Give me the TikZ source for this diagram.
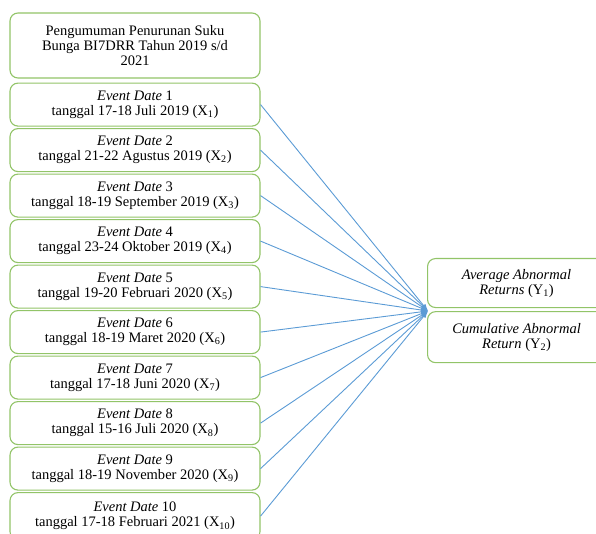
\documentclass[tikz,border=0pt]{standalone}
\usepackage{fontspec}
\setmainfont{Liberation Serif}
\usetikzlibrary{arrows.meta, positioning}
\definecolor{boxgreen}{RGB}{146,196,104}
\definecolor{lineblue}{RGB}{91,155,213}

\begin{document}
\begin{tikzpicture}[
        x=1pt, y=-1pt,
        node distance=1.4pt,
        every node/.style={font=\fontsize{14.5}{15}\selectfont},
        box/.style={rectangle, draw=boxgreen, line width=1.1pt, fill=white, rounded corners=8pt, minimum width=250pt, minimum height=43pt, align=center, inner sep=1pt},
        outbox/.style={box, minimum width=178pt},
        link/.style={-{Latex[length=7pt,width=5pt]}, lineblue, line width=0.9pt}
    ]
        \useasboundingbox (0,0) rectangle (596,534);
        \clip (0,0) rectangle (596,534);

        % left column
        \node[box, minimum height=65pt] (title) at (135,45.5) {Pengumuman Penurunan Suku\\Bunga BI7DRR Tahun 2019 s/d\\2021};
        \node[box, below=4pt of title] (ed1) {\textit{Event Date} 1\\tanggal 17-18 Juli 2019 (X\textsubscript{1})};
        \node[box, below=of ed1] (ed2) {\textit{Event Date} 2\\tanggal 21-22 Agustus 2019 (X\textsubscript{2})};
        \node[box, below=of ed2] (ed3) {\textit{Event Date} 3\\tanggal 18-19 September 2019 (X\textsubscript{3})};
        \node[box, below=of ed3] (ed4) {\textit{Event Date} 4\\tanggal 23-24 Oktober 2019 (X\textsubscript{4})};
        \node[box, below=of ed4] (ed5) {\textit{Event Date} 5\\tanggal 19-20 Februari 2020 (X\textsubscript{5})};
        \node[box, below=of ed5] (ed6) {\textit{Event Date} 6\\tanggal 18-19 Maret 2020 (X\textsubscript{6})};
        \node[box, below=of ed6] (ed7) {\textit{Event Date} 7\\tanggal 17-18 Juni 2020 (X\textsubscript{7})};
        \node[box, below=of ed7] (ed8) {\textit{Event Date} 8\\tanggal 15-16 Juli 2020 (X\textsubscript{8})};
        \node[box, below=of ed8] (ed9) {\textit{Event Date} 9\\tanggal 18-19 November 2020 (X\textsubscript{9})};
        \node[box, below=of ed9, minimum height=47pt] (ed10) {\textit{Event Date} 10\\tanggal 17-18 Februari 2021 (X\textsubscript{10})};

        % right column
        \node[outbox, minimum height=49pt, anchor=north west] (aar) at (427,258) {\textit{Average Abnormal}\\\textit{Returns} (Y\textsubscript{1})};
        \node[outbox, minimum height=51pt, below=3pt of aar] (car) {\textit{Cumulative Abnormal}\\\textit{Return} (Y\textsubscript{2})};
        \coordinate (hub) at (428,311);

        \draw[link] (ed1.east) -- (hub);
        \draw[link] (ed2.east) -- (hub);
        \draw[link] (ed3.east) -- (hub);
        \draw[link] (ed4.east) -- (hub);
        \draw[link] (ed5.east) -- (hub);
        \draw[link] (ed6.east) -- (hub);
        \draw[link] (ed7.east) -- (hub);
        \draw[link] (ed8.east) -- (hub);
        \draw[link] (ed9.east) -- (hub);
        \draw[link] (ed10.east) -- (hub);
    \end{tikzpicture}
\end{document}
